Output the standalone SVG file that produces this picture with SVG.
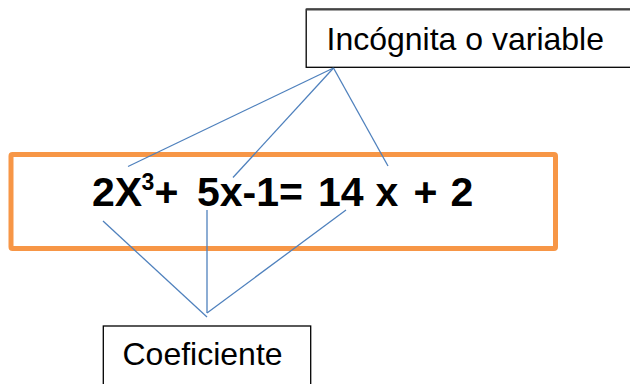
<svg xmlns="http://www.w3.org/2000/svg" width="630" height="384" viewBox="0 0 630 384">
<style>
.box{fill:#fff;stroke:#000;stroke-width:1.3}
.lbl{font-family:"Liberation Sans",Arial,sans-serif;font-size:32px;fill:#000}
.eq{font-family:"Liberation Sans",Arial,sans-serif;font-size:41px;font-weight:bold;fill:#000}
.conn line{stroke:#4F81BD;stroke-width:1.3;fill:none}
</style>
<rect width="630" height="384" fill="#fff"/>
<g id="equation">
<rect x="11" y="154.5" width="544.5" height="94" rx="1.5" fill="none" stroke="#F79646" stroke-width="5" stroke-linejoin="round"/>
<text class="eq" y="206"><tspan x="92">2X</tspan><tspan x="141.5" y="190" font-size="23">3</tspan><tspan x="154.5" y="206">+</tspan><tspan x="197">5x-1=</tspan><tspan x="318">14</tspan><tspan x="375.5">x</tspan><tspan x="413.5">+</tspan><tspan x="450.5">2</tspan></text>
</g>
<g id="variable">
<rect class="box" x="306.2" y="9.3" width="340" height="58"/>
<path d="M306.2 9.3H630" stroke="#444" stroke-width="2.2" fill="none"/>
<text class="lbl" x="326.5" y="50">Incógnita o variable</text>
</g>
<g id="coeficiente">
<rect class="box" x="103.3" y="326" width="207.4" height="70"/>
<text class="lbl" x="122.5" y="365">Coeficiente</text>
</g>
<g id="connectors" class="conn">
<line x1="333.5" y1="68" x2="128" y2="166.5"/>
<line x1="333.5" y1="68" x2="233" y2="177.5"/>
<line x1="333.5" y1="68" x2="388" y2="166"/>
<line x1="103" y1="221" x2="207" y2="317"/>
<line x1="207" y1="210" x2="207" y2="313"/>
<line x1="346" y1="210" x2="207" y2="313"/>
</g>
</svg>
